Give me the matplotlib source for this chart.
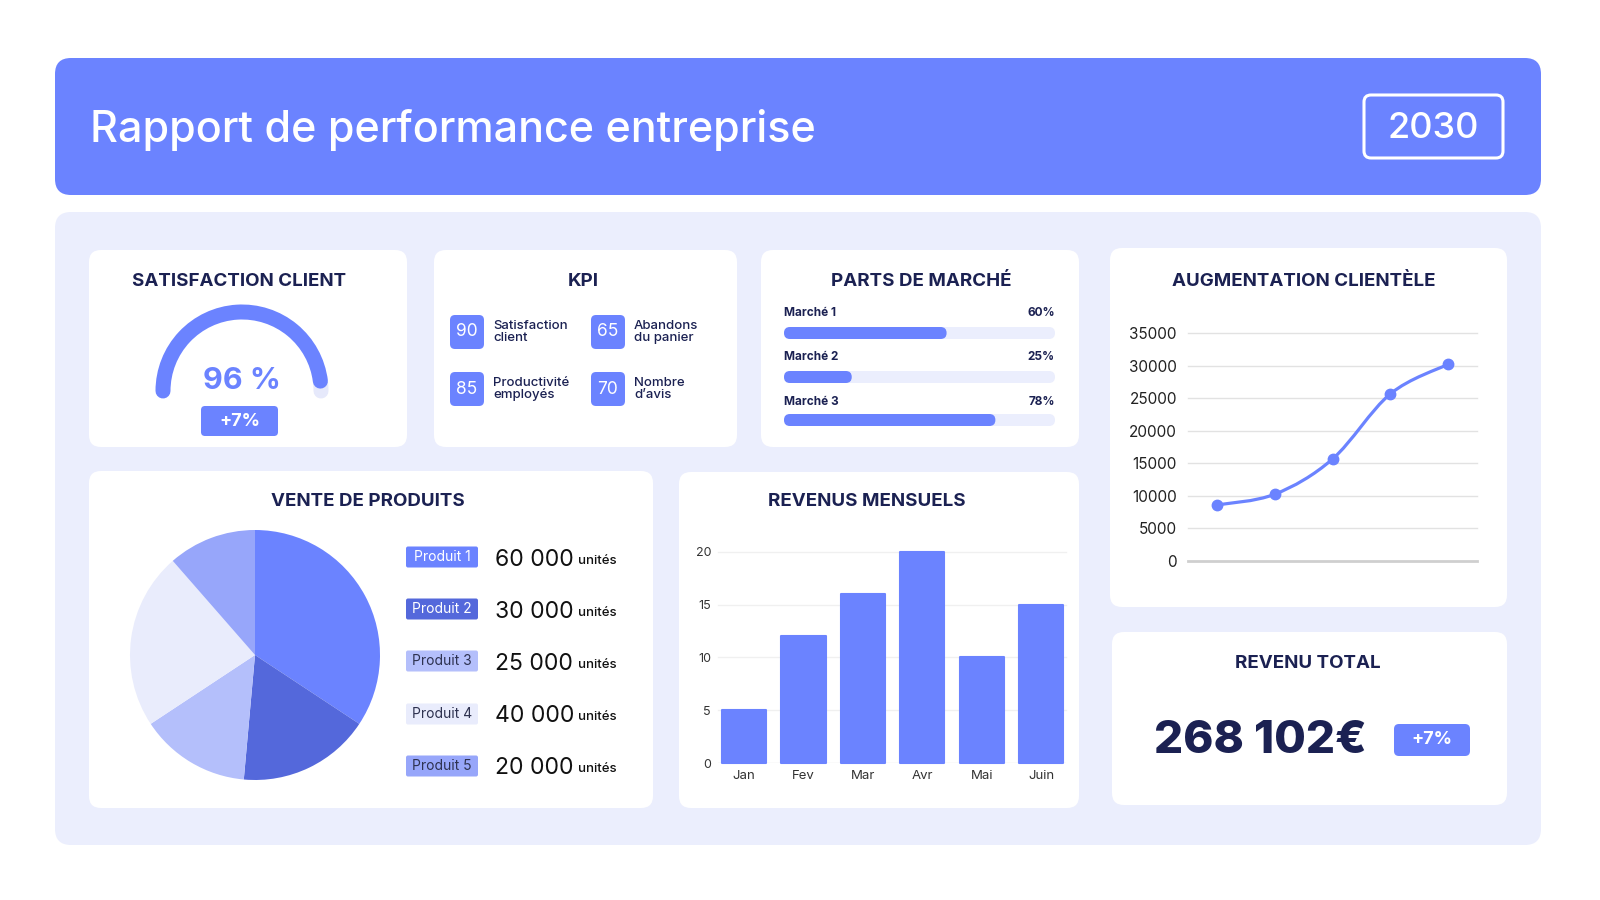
import numpy as np
import matplotlib.pyplot as plt
from matplotlib.patches import FancyBboxPatch, Arc, PathPatch
from matplotlib.path import Path

plt.rcParams['font.family'] = ['Inter', 'DejaVu Sans']

BLUE = '#6B83FF'
NAVY = '#1B2152'
PALE = '#EBEEFD'

# data
title = 'Rapport de performance entreprise'
year = '2030'
satisfaction = 96
satisfaction_delta = '+7%'
kpi_values = [90, 65, 85, 70]
kpi_labels = ['Satisfaction\nclient', 'Abandons\ndu panier',
              'Productivité\nemployés', 'Nombre\nd’avis']
markets = ['Marché 1', 'Marché 2', 'Marché 3']
market_share = [60, 25, 78]
clients = [8600, 10250, 15650, 25650, 30200]
client_ticks = [0, 5000, 10000, 15000, 20000, 25000, 30000, 35000]
products = ['Produit 1', 'Produit 2', 'Produit 3', 'Produit 4', 'Produit 5']
product_units = [60000, 30000, 25000, 40000, 20000]
product_colors = ['#6B83FF', '#5468DB', '#B4BFFB', '#E9ECFC', '#97A6FA']
months = ['Jan', 'Fev', 'Mar', 'Avr', 'Mai', 'Juin']
monthly_revenue = [5, 12, 16, 20, 10, 15]
revenue_ticks = [0, 5, 10, 15, 20]
total_revenue = 268102
total_delta = '+7%'


def fmt(v):
    return f'{v:,}'.replace(',', ' ')


fig = plt.figure(figsize=(16, 9), dpi=100)
bg = fig.add_axes([0, 0, 1, 1])
bg.set_xlim(0, 1600)
bg.set_ylim(900, 0)
bg.axis('off')


def box(x0, y0, x1, y1, fc='white', r=12, **kw):
    bg.add_patch(FancyBboxPatch((x0, y0), x1 - x0, y1 - y0,
                                boxstyle=f'round,pad=0,rounding_size={r}',
                                fc=fc, **kw))


def card_title(x, y, s):
    bg.text(x, y, s, ha='center', va='center', fontsize=13.5,
            fontweight='bold', color=NAVY)


# header
box(55, 58, 1541, 195, BLUE, r=16, ec='none')
bg.text(90, 130, title, ha='left', va='center', fontsize=31, color='white',
        fontweight='medium')
box(1364, 95, 1503, 158, 'none', r=7, ec='white', lw=2.2)
bg.text(1433, 128, year, ha='center', va='center', fontsize=26, color='white',
        fontweight='medium')

# light background and cards
box(55, 212, 1541, 845, PALE, r=16, ec='none')
for x0, y0, x1, y1 in [(89, 250, 407, 447), (434, 250, 737, 447),
                       (761, 250, 1079, 447), (1110, 248, 1507, 607),
                       (89, 471, 653, 808), (679, 472, 1079, 808),
                       (1112, 632, 1507, 805)]:
    box(x0, y0, x1, y1, 'white', r=12, ec='none')

# satisfaction gauge
card_title(239, 281, 'SATISFACTION CLIENT')
cx, cy, rad = 242, 391, 79
end = 180 + 180 * satisfaction / 100
rest = Arc((cx, cy), 2 * rad, 2 * rad, theta1=end - 2, theta2=360,
           color='#E6E9FB', lw=10.8)
rest.set_capstyle('round')
bg.add_patch(rest)
done = Arc((cx, cy), 2 * rad, 2 * rad, theta1=180, theta2=end,
           color=BLUE, lw=10.8)
done.set_capstyle('round')
bg.add_patch(done)
bg.text(cx, 381, f'{satisfaction} %', ha='center', va='center', fontsize=22,
        fontweight='bold', color=BLUE)
box(201, 406, 278, 436, BLUE, r=4, ec='none')
bg.text(239.5, 421, satisfaction_delta, ha='center', va='center', fontsize=13,
        fontweight='bold', color='white')

# KPI
card_title(583, 281, 'KPI')
for i, (v, lab) in enumerate(zip(kpi_values, kpi_labels)):
    bx = [450, 591][i % 2]
    by = [315, 372][i // 2]
    box(bx, by, bx + 34, by + 34, BLUE, r=5, ec='none')
    bg.text(bx + 17, by + 17, str(v), ha='center', va='center', fontsize=12.5,
            color='white')
    bg.text(bx + 43, by + 17, lab, ha='left', va='center', fontsize=9.5,
            color=NAVY, linespacing=0.95, fontweight='medium')

# market share
card_title(921, 281, 'PARTS DE MARCHÉ')
for i, (m, s) in enumerate(zip(markets, market_share)):
    ly = [313, 357, 402][i]
    by = [333, 377, 420][i]
    bg.text(784, ly, m, ha='left', va='center', fontsize=8.5,
            fontweight='bold', color=NAVY)
    bg.text(1055, ly, f'{s}%', ha='right', va='center', fontsize=8.5,
            fontweight='bold', color=NAVY)
    box(784, by - 6, 1055, by + 6, PALE, r=6, ec='none')
    box(784, by - 6, 784 + (1055 - 784) * s / 100, by + 6, BLUE, r=6,
        ec='none')

# client growth line chart
card_title(1304, 281, 'AUGMENTATION CLIENTÈLE')
ax2 = fig.add_axes([1188 / 1600, 1 - 561 / 900, 289 / 1600, 228 / 900])
ax2.set_facecolor('none')
xs = np.arange(len(clients))
ax2.set_xlim(-0.5, len(clients) - 0.5)
ax2.set_ylim(client_ticks[0], client_ticks[-1])
ax2.set_yticks(client_ticks)
ax2.set_xticks([])
for t in client_ticks[1:]:
    ax2.axhline(t, color='#E2E2E2', lw=1, zorder=1, clip_on=False)
ax2.axhline(0, color='#CFCFCF', lw=2, zorder=1, clip_on=False)
for sp in ax2.spines.values():
    sp.set_visible(False)
ax2.tick_params(axis='y', length=0, pad=8, labelsize=11, labelcolor='#222222')
pts = np.column_stack([xs, clients]).astype(float)
verts = [pts[0]]
codes = [Path.MOVETO]
n = len(pts)
for i in range(n - 1):
    p0 = pts[i - 1] if i > 0 else pts[i]
    p1, p2 = pts[i], pts[i + 1]
    p3 = pts[i + 2] if i + 2 < n else pts[i + 1]
    verts += [p1 + (p2 - p0) / 6, p2 - (p3 - p1) / 6, p2]
    codes += [Path.CURVE4] * 3
ax2.add_patch(PathPatch(Path(verts, codes), fc='none', ec=BLUE, lw=2.3,
                        zorder=3, clip_on=False))
ax2.plot(xs, clients, 'o', ms=7.5, color=BLUE, zorder=4, clip_on=False)

# product sales pie
card_title(368, 501, 'VENTE DE PRODUITS')
ax4 = fig.add_axes([130 / 1600, 1 - 780 / 900, 250 / 1600, 250 / 900])
ax4.pie(product_units, colors=product_colors, startangle=90,
        counterclock=False, radius=1, wedgeprops={'linewidth': 0})
ax4.set_xlim(-1, 1)
ax4.set_ylim(-1, 1)
rows = [557, 609, 661, 714, 766]
for i, (p, u, c) in enumerate(zip(products, product_units, product_colors)):
    y = rows[i]
    box(406, y - 10.5, 478, y + 10.5, c, r=2, ec='none')
    bg.text(442, y, p, ha='center', va='center', fontsize=10,
            color='white' if i < 2 else '#2E3250')
    bg.text(495, y + 8.5, fmt(u), ha='left', va='baseline', fontsize=16.5,
            color='#111111')
    bg.text(578, y + 6.5, 'unités', ha='left', va='baseline', fontsize=9.5,
            color='#111111', fontweight='medium')

# monthly revenue bars
card_title(867, 501, 'REVENUS MENSUELS')
ax3 = fig.add_axes([718 / 1600, 1 - 763 / 900, 348 / 1600, 211.3 / 900])
ax3.set_facecolor('none')
xm = np.arange(len(months))
ax3.set_xlim(-0.44, len(months) - 0.58)
ax3.set_ylim(revenue_ticks[0], revenue_ticks[-1])
ax3.set_yticks(revenue_ticks)
ax3.set_xticks(xm, months)
for t in revenue_ticks[1:]:
    ax3.axhline(t, color='#F0F0F0', lw=1, zorder=0, clip_on=False)
ax3.axhline(0, color='#E8E8E8', lw=1, zorder=0)
ax3.bar(xm, monthly_revenue, width=0.745, color=BLUE, edgecolor=BLUE,
        linewidth=1.5, joinstyle='round', zorder=2, clip_on=False)
for sp in ax3.spines.values():
    sp.set_visible(False)
ax3.tick_params(axis='y', length=0, pad=5, labelsize=9, labelcolor='#333333')
ax3.tick_params(axis='x', length=0, pad=5, labelsize=9.5, labelcolor='#333333')

# total revenue
card_title(1308, 664, 'REVENU TOTAL')
bg.text(1260, 741, fmt(total_revenue) + '€', ha='center', va='center',
        fontsize=33, fontweight='heavy', color=NAVY)
box(1394, 724, 1470, 756, BLUE, r=5, ec='none')
bg.text(1432, 740, total_delta, ha='center', va='center', fontsize=13,
        fontweight='bold', color='white')

fig.savefig('out.png', dpi=100)
